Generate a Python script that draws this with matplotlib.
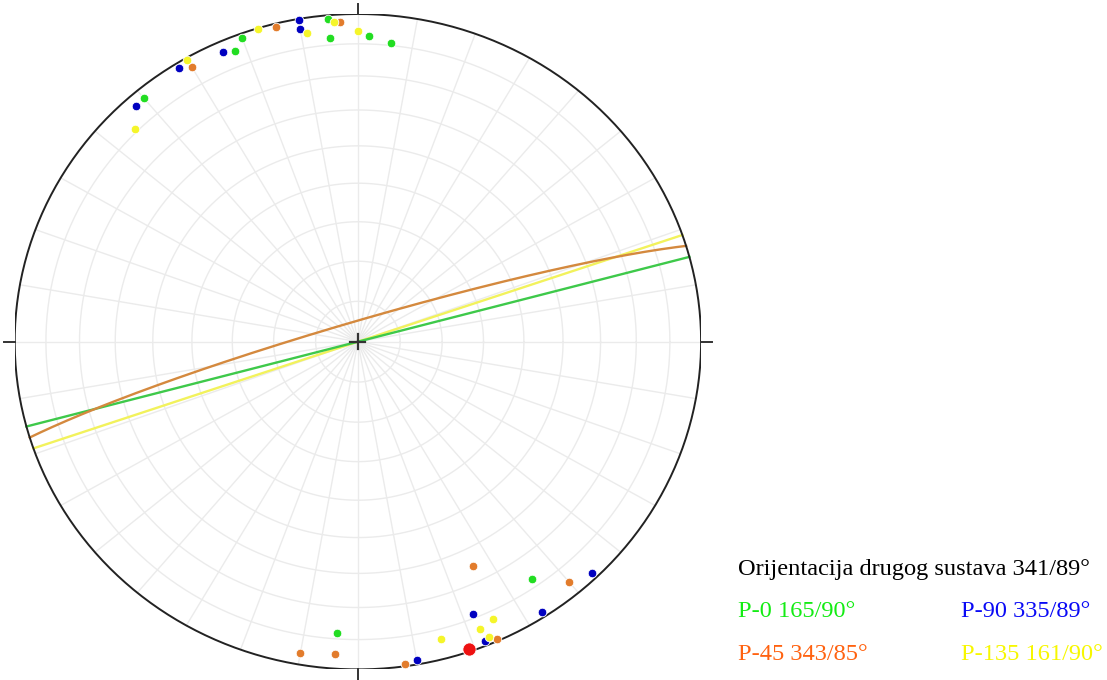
import matplotlib
matplotlib.use('Agg')
import matplotlib.pyplot as plt
import numpy as np

# ── Poles (trend, plunge in degrees) ───────────
green_trend  = [355, 355, 2, 6, 340, 338, 320, 145, 184]
green_plunge = [1.2, 7.6, 7.4, 9.3, 1.5, 4.7, 3.3, 12.6, 11.9]

blue_trend   = [350, 350, 336, 328, 318, 136, 158, 147, 158, 170]
blue_plunge  = [0.5, 3.6, 3.6, 1.7, 3.7, 1.9, 11.5, 1.9, 1.7, 1.7]

orange_trend  = [357, 346, 330, 154, 140, 156, 172, 190, 184]
orange_plunge = [2.6, 1.3, 3.6, 24.8, 4.9, 0.7, 0.7, 4.1, 5.0]

yellow_trend  = [356, 351, 360, 343, 330, 315, 155, 158, 165, 157]
yellow_plunge = [2.5, 5.3, 5.7, 0.4, 0.7, 8.9, 7.5, 6.0, 6.6, 2.5]

# second joint set 341/89 -> pole 161/1
red_trend  = [161]
red_plunge = [1]

# ── Planes (dip direction / dip) drawn as great circles ──────────
planes = [('P-135', 161, 90), ('P-0', 165, 90), ('P-45', 343, 85)]
plane_colors = {'P-0': '#3ec94a', 'P-45': '#d4893e', 'P-135': '#f2f25c'}

# ── Legend texts ──────────────────────────────────────────────────
title_text = 'Orijentacija drugog sustava 341/89°'
legend_rows = [('P-0 165/90°', '#14ec14', 'P-90 335/89°', '#0a0af5'),
               ('P-45 343/85°', '#ff6210', 'P-135 161/90°', '#f7f700')]


def project(trend, plunge):
    """Lower-hemisphere equal-area (Schmidt) projection, primitive radius 1."""
    t = np.radians(np.asarray(trend, float))
    p = np.radians(np.asarray(plunge, float))
    r = np.sqrt(2) * np.sin((np.pi / 2 - p) / 2)
    return r * np.sin(t), r * np.cos(t)


def great_circle(dipdir, dip, n=181):
    strike = np.radians(dipdir - 90)
    dd, dp = np.radians(dipdir), np.radians(dip)
    s = np.array([np.sin(strike), np.cos(strike), 0.0])
    d = np.array([np.sin(dd) * np.cos(dp), np.cos(dd) * np.cos(dp), np.sin(dp)])
    t = np.linspace(0, np.pi, n)
    v = np.outer(np.cos(t), s) + np.outer(np.sin(t), d)
    plunge = np.degrees(np.arcsin(np.clip(v[:, 2], -1, 1)))
    trend = np.degrees(np.arctan2(v[:, 0], v[:, 1]))
    return project(trend, plunge)


W, H = 1107, 680
fig = plt.figure(figsize=(W / 100, H / 100), dpi=100)

# net is slightly squashed vertically in the reference
cx, cy, rx, ry = 357.9, 341.7, 343.2, 327.7
ax = fig.add_axes([(cx - rx) / W, (H - cy - ry) / H, 2 * rx / W, 2 * ry / H])
ax.set_xlim(-1, 1)
ax.set_ylim(-1, 1)
ax.set_aspect('auto')
ax.axis('off')

# ── Polar grid ────────────────────────────────────────────────────
grid_kw = dict(color='#ebebeb', lw=1.0, zorder=1)
phi = np.linspace(0, 2 * np.pi, 400)
for colat in range(10, 90, 10):
    r = np.sqrt(2) * np.sin(np.radians(colat) / 2)
    ax.plot(r * np.cos(phi), r * np.sin(phi), **grid_kw)
for az in range(0, 360, 10):
    a = np.radians(az)
    ax.plot([0, np.sin(a)], [0, np.cos(a)], **grid_kw)

# primitive circle and N/E/S/W ticks
ax.plot(np.cos(phi), np.sin(phi), color='#222222', lw=1.4, zorder=5)
for a in (0, 90, 180, 270):
    ar = np.radians(a)
    ax.plot([np.sin(ar), 1.032 * np.sin(ar)], [np.cos(ar), 1.032 * np.cos(ar)],
            color='#333333', lw=1.4, clip_on=False, zorder=5)
ax.plot([-0.022, 0.022], [0, 0], color='#333333', lw=1.6, zorder=7)
ax.plot([0, 0], [-0.023, 0.023], color='#333333', lw=1.6, zorder=7)

# ── Great circles ─────────────────────────────────────────────────
for name, ddir, dip in planes:
    gx, gy = great_circle(ddir, dip)
    ax.plot(gx, gy, color=plane_colors[name], lw=1.7, zorder=4)

# ── Poles ─────────────────────────────────────────────────────────
pole_sets = [(green_trend, green_plunge, '#22dd22'),
             (blue_trend, blue_plunge, '#0000c0'),
             (orange_trend, orange_plunge, '#e27c2c'),
             (yellow_trend, yellow_plunge, '#f5f52a')]
for tr, pl, col in pole_sets:
    px, py = project(tr, pl)
    ax.plot(px, py, 'o', color=col, ms=6.2, mec='white', mew=0.6,
            zorder=6, clip_on=False)
px, py = project(red_trend, red_plunge)
ax.plot(px, py, 'o', color='#ee1111', ms=9.5, mec='white', mew=0.6,
        zorder=6, clip_on=False)

# ── Legend text ───────────────────────────────────────────────────
font = dict(family='Liberation Serif', fontsize=17.6, va='baseline', ha='left')
fig.text(738 / W, 1 - 575 / H, title_text, color='black', **font)
for (t1, c1, t2, c2), base in zip(legend_rows, (617, 660)):
    fig.text(738 / W, 1 - base / H, t1, color=c1, **font)
    fig.text(961 / W, 1 - base / H, t2, color=c2, **font)

fig.savefig('out.png', dpi=100, facecolor='white')
